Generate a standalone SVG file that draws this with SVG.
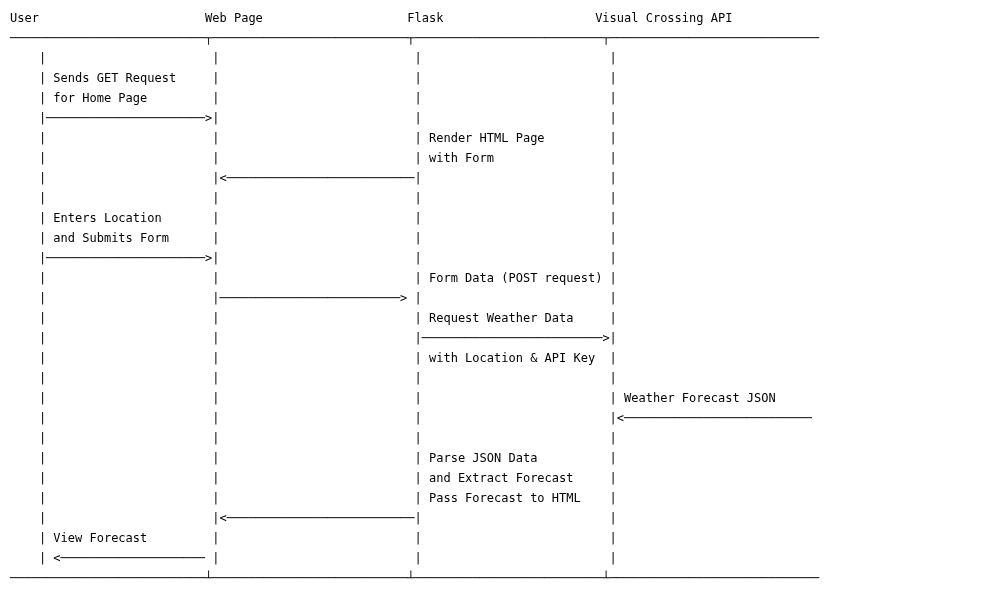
<svg xmlns="http://www.w3.org/2000/svg" width="1000" height="600" viewBox="0 0 1000 600">
<style>
text { font-family: "DejaVu Sans Mono", "Liberation Mono", monospace; font-size: 12px; fill: #000; white-space: pre; }
</style>
<defs>
<filter id="gray" x="0" y="0" width="1000" height="600" filterUnits="userSpaceOnUse"><feOffset dx="0" dy="0"/></filter>
</defs>
<rect width="1000" height="600" fill="#fff"/>
<g filter="url(#gray)">
<g id="frame">
<text x="10" y="42">───────────────────────────┬───────────────────────────┬──────────────────────────┬─────────────────────────────</text>
<text x="10" y="582">───────────────────────────┴───────────────────────────┴──────────────────────────┴─────────────────────────────</text>
</g>
<g id="user">
<text x="10" y="22">User</text>
<text x="38.9" y="62">|<tspan x="38.9" dy="20">|</tspan><tspan x="38.9" dy="20">|</tspan><tspan x="38.9" dy="20">|</tspan><tspan x="38.9" dy="20">|</tspan><tspan x="38.9" dy="20">|</tspan><tspan x="38.9" dy="20">|</tspan><tspan x="38.9" dy="20">|</tspan><tspan x="38.9" dy="20">|</tspan><tspan x="38.9" dy="20">|</tspan><tspan x="38.9" dy="20">|</tspan><tspan x="38.9" dy="20">|</tspan><tspan x="38.9" dy="20">|</tspan><tspan x="38.9" dy="20">|</tspan><tspan x="38.9" dy="20">|</tspan><tspan x="38.9" dy="20">|</tspan><tspan x="38.9" dy="20">|</tspan><tspan x="38.9" dy="20">|</tspan><tspan x="38.9" dy="20">|</tspan><tspan x="38.9" dy="20">|</tspan><tspan x="38.9" dy="20">|</tspan><tspan x="38.9" dy="20">|</tspan><tspan x="38.9" dy="20">|</tspan><tspan x="38.9" dy="20">|</tspan><tspan x="38.9" dy="20">|</tspan><tspan x="38.9" dy="20">|</tspan></text>
</g>
<g id="webpage">
<text x="205.05" y="22">Web Page</text>
<text x="212.27" y="62">|<tspan x="212.27" dy="20">|</tspan><tspan x="212.27" dy="20">|</tspan><tspan x="212.27" dy="20">|</tspan><tspan x="212.27" dy="20">|</tspan><tspan x="212.27" dy="20">|</tspan><tspan x="212.27" dy="20">|</tspan><tspan x="212.27" dy="20">|</tspan><tspan x="212.27" dy="20">|</tspan><tspan x="212.27" dy="20">|</tspan><tspan x="212.27" dy="20">|</tspan><tspan x="212.27" dy="20">|</tspan><tspan x="212.27" dy="20">|</tspan><tspan x="212.27" dy="20">|</tspan><tspan x="212.27" dy="20">|</tspan><tspan x="212.27" dy="20">|</tspan><tspan x="212.27" dy="20">|</tspan><tspan x="212.27" dy="20">|</tspan><tspan x="212.27" dy="20">|</tspan><tspan x="212.27" dy="20">|</tspan><tspan x="212.27" dy="20">|</tspan><tspan x="212.27" dy="20">|</tspan><tspan x="212.27" dy="20">|</tspan><tspan x="212.27" dy="20">|</tspan><tspan x="212.27" dy="20">|</tspan><tspan x="212.27" dy="20">|</tspan></text>
</g>
<g id="flask">
<text x="407.32" y="22">Flask</text>
<text x="414.54" y="62">|<tspan x="414.54" dy="20">|</tspan><tspan x="414.54" dy="20">|</tspan><tspan x="414.54" dy="20">|</tspan><tspan x="414.54" dy="20">|</tspan><tspan x="414.54" dy="20">|</tspan><tspan x="414.54" dy="20">|</tspan><tspan x="414.54" dy="20">|</tspan><tspan x="414.54" dy="20">|</tspan><tspan x="414.54" dy="20">|</tspan><tspan x="414.54" dy="20">|</tspan><tspan x="414.54" dy="20">|</tspan><tspan x="414.54" dy="20">|</tspan><tspan x="414.54" dy="20">|</tspan><tspan x="414.54" dy="20">|</tspan><tspan x="414.54" dy="20">|</tspan><tspan x="414.54" dy="20">|</tspan><tspan x="414.54" dy="20">|</tspan><tspan x="414.54" dy="20">|</tspan><tspan x="414.54" dy="20">|</tspan><tspan x="414.54" dy="20">|</tspan><tspan x="414.54" dy="20">|</tspan><tspan x="414.54" dy="20">|</tspan><tspan x="414.54" dy="20">|</tspan><tspan x="414.54" dy="20">|</tspan><tspan x="414.54" dy="20">|</tspan></text>
</g>
<g id="api">
<text x="595.14" y="22">Visual Crossing API</text>
<text x="609.59" y="62">|<tspan x="609.59" dy="20">|</tspan><tspan x="609.59" dy="20">|</tspan><tspan x="609.59" dy="20">|</tspan><tspan x="609.59" dy="20">|</tspan><tspan x="609.59" dy="20">|</tspan><tspan x="609.59" dy="20">|</tspan><tspan x="609.59" dy="20">|</tspan><tspan x="609.59" dy="20">|</tspan><tspan x="609.59" dy="20">|</tspan><tspan x="609.59" dy="20">|</tspan><tspan x="609.59" dy="20">|</tspan><tspan x="609.59" dy="20">|</tspan><tspan x="609.59" dy="20">|</tspan><tspan x="609.59" dy="20">|</tspan><tspan x="609.59" dy="20">|</tspan><tspan x="609.59" dy="20">|</tspan><tspan x="609.59" dy="20">|</tspan><tspan x="609.59" dy="20">|</tspan><tspan x="609.59" dy="20">|</tspan><tspan x="609.59" dy="20">|</tspan><tspan x="609.59" dy="20">|</tspan><tspan x="609.59" dy="20">|</tspan><tspan x="609.59" dy="20">|</tspan><tspan x="609.59" dy="20">|</tspan><tspan x="609.59" dy="20">|</tspan></text>
</g>
<g id="labels">
<text x="53.34" y="82">Sends GET Request</text>
<text x="53.34" y="102">for Home Page</text>
<text x="428.99" y="142">Render HTML Page</text>
<text x="428.99" y="162">with Form</text>
<text x="53.34" y="222">Enters Location</text>
<text x="53.34" y="242">and Submits Form</text>
<text x="428.99" y="282">Form Data (POST request)</text>
<text x="428.99" y="322">Request Weather Data</text>
<text x="428.99" y="362">with Location &amp; API Key</text>
<text x="624.04" y="402">Weather Forecast JSON</text>
<text x="428.99" y="462">Parse JSON Data</text>
<text x="428.99" y="482">and Extract Forecast</text>
<text x="428.99" y="502">Pass Forecast to HTML</text>
<text x="53.34" y="542">View Forecast</text>
</g>
<g id="connectors">
<text x="46.12" y="122">──────────────────────&gt;</text>
<text x="219.5" y="182">&lt;──────────────────────────</text>
<text x="46.12" y="262">──────────────────────&gt;</text>
<text x="219.5" y="302">─────────────────────────&gt;</text>
<text x="421.77" y="342">─────────────────────────&gt;</text>
<text x="616.82" y="422">&lt;──────────────────────────</text>
<text x="219.5" y="522">&lt;──────────────────────────</text>
<text x="53.34" y="562">&lt;────────────────────</text>
</g>
</g>
</svg>
